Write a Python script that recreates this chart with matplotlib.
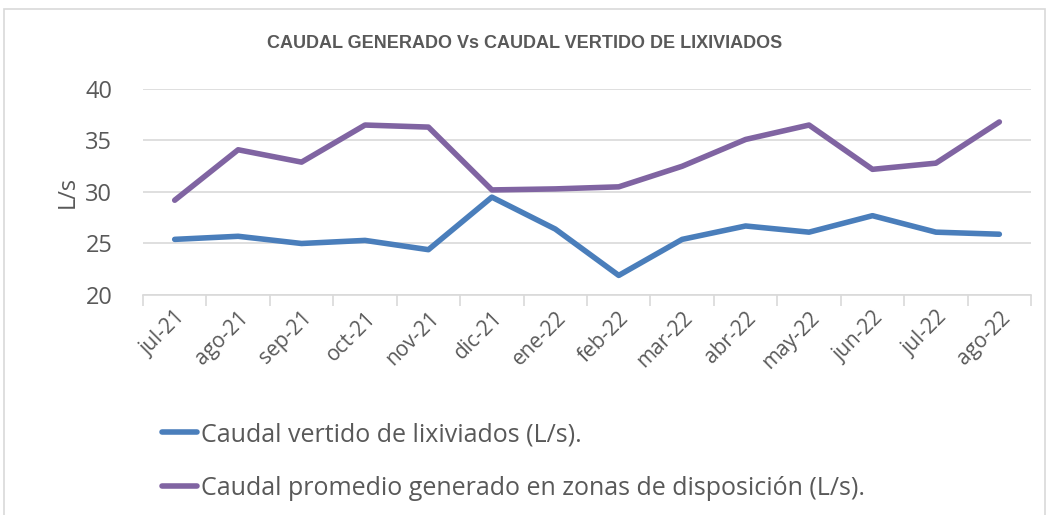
import numpy as np
import matplotlib.pyplot as plt
from matplotlib.patches import Rectangle
from matplotlib.ticker import FixedLocator

# ---------------------------------------------------------------------------
# Data
# ---------------------------------------------------------------------------
months = ["jul-21", "ago-21", "sep-21", "oct-21", "nov-21", "dic-21", "ene-22",
          "feb-22", "mar-22", "abr-22", "may-22", "jun-22", "jul-22", "ago-22"]
vertido = [25.4, 25.7, 25.0, 25.3, 24.4, 29.5, 26.4,
           21.9, 25.4, 26.7, 26.1, 27.7, 26.1, 25.9]
generado = [29.2, 34.1, 32.9, 36.5, 36.3, 30.2, 30.3,
            30.5, 32.5, 35.1, 36.5, 32.2, 32.8, 36.8]

label_vertido = "Caudal vertido de lixiviados (L/s)."
label_generado = "Caudal promedio generado en zonas de disposición (L/s)."

BLUE = "#4A7EBB"
PURPLE = "#8064A2"
TEXT = "#595959"
GRID = "#D9D9D9"

plt.rcParams["font.family"] = ["Open Sans", "DejaVu Sans"]

fig = plt.figure(figsize=(10.49, 5.15), dpi=100)
ax = fig.add_axes([0.1363, 0.4272, 0.8466, 0.40])

x = np.arange(len(months))
ax.plot(x, vertido, color=BLUE, linewidth=4, solid_capstyle="round",
        label=label_vertido)
ax.plot(x, generado, color=PURPLE, linewidth=4, solid_capstyle="round",
        label=label_generado)

ax.set_xlim(-0.5, len(months) - 0.5)
ax.set_ylim(20, 40)
ax.set_yticks([20, 25, 30, 35, 40])
ax.yaxis.grid(True, color=GRID, linewidth=1.2)
ax.set_axisbelow(True)

ax.set_xticks(x)
ax.set_xticklabels(months, rotation=45, ha="right", rotation_mode="anchor",
                   fontsize=15, color=TEXT)
ax.xaxis.set_minor_locator(FixedLocator(np.arange(-0.5, len(months), 1.0)))
ax.tick_params(axis="x", which="major", length=0, pad=9)
ax.tick_params(axis="x", which="minor", length=8, width=1.2, color=GRID)
ax.tick_params(axis="y", length=0, labelsize=17, labelcolor=TEXT, pad=22)

for side in ["top", "right", "left"]:
    ax.spines[side].set_visible(False)
ax.spines["bottom"].set_color(GRID)
ax.spines["bottom"].set_linewidth(1.2)

ax.set_ylabel("L/s", fontsize=17, color=TEXT, labelpad=4)

fig.text(0.5, 0.916, "CAUDAL GENERADO Vs CAUDAL VERTIDO DE LIXIVIADOS",
         ha="center", va="center", fontsize=13, fontweight="bold", color=TEXT,
         family=["Liberation Sans Narrow", "Liberation Sans", "DejaVu Sans"])

fig.legend(loc="upper left", bbox_to_anchor=(0.145, 0.2),
           bbox_transform=fig.transFigure, frameon=False, fontsize=18,
           labelcolor=TEXT, handlelength=1.4, handletextpad=0.15,
           labelspacing=1.15, borderaxespad=0)

# chart border
fig.patches.append(Rectangle((0.004, -0.01), 0.992, 0.993, transform=fig.transFigure,
                             fill=False, edgecolor=GRID, linewidth=1.2))

fig.savefig("out.png", dpi=100)
